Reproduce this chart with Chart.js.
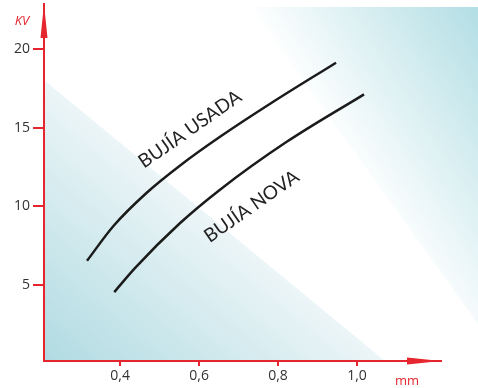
<!DOCTYPE html>
<html>
<head>
  <meta charset="utf-8">
  <title>Bujía KV / mm</title>
  <style>
    body { margin: 0; background: #fff; }
    #wrap { width: 478px; height: 388px; position: relative; }
  </style>
</head>
<body>
  <div id="wrap"><canvas id="chart"></canvas></div>
  <script src="https://cdn.jsdelivr.net/npm/chart.js@4.4.0/dist/chart.umd.min.js"></script>
  <script>
    // electrode gap (mm) and ignition voltage (KV)
    var usadaX = [0.316, 0.383, 0.468, 0.552, 0.653, 0.780, 0.947];
    var usadaKV = [6.54, 8.75, 10.88, 12.60, 14.42, 16.52, 19.13];
    var novaX = [0.385, 0.438, 0.552, 0.653, 0.822, 1.018];
    var novaKV = [4.55, 6.09, 8.94, 11.06, 14.10, 17.12];
    var xTicks = [0.4, 0.6, 0.8, 1.0];
    var yTicks = [5, 10, 15, 20];
    var curveLabels = ['BUJ\u00CDA USADA', 'BUJ\u00CDA NOVA'];
    var labelX = [0.577, 0.733];
    var labelKV = [14.9, 10.0];

    var red = '#e5262e';

    function toPoints(xs, ys) {
      var pts = [];
      for (var i = 0; i < xs.length; i++) pts.push({ x: xs[i], y: ys[i] });
      return pts;
    }

    // shaded corners, arrows, axis names and curve names
    var decor = {
      id: 'decor',
      beforeDraw: function(chart) {
        var ctx = chart.ctx, a = chart.chartArea;
        ctx.save();
        // lower left corner
        var g = ctx.createLinearGradient(a.left, a.bottom, a.left + 138, a.bottom - 167);
        g.addColorStop(0, 'rgb(176,219,226)');
        g.addColorStop(1, 'rgb(236,245,247)');
        ctx.fillStyle = g;
        ctx.beginPath();
        ctx.moveTo(a.left, a.top + 76);
        ctx.lineTo(a.left + 341, a.bottom);
        ctx.lineTo(a.left, a.bottom);
        ctx.closePath();
        ctx.fill();
        // upper right corner
        var w = chart.width;
        var g2 = ctx.createLinearGradient(w, a.top + 3, w - 165, a.top + 108);
        g2.addColorStop(0, 'rgb(178,222,228)');
        g2.addColorStop(1, 'rgb(255,255,255)');
        ctx.fillStyle = g2;
        ctx.beginPath();
        ctx.moveTo(w - 228, a.top + 3);
        ctx.lineTo(w, a.top + 3);
        ctx.lineTo(w, a.top + 320);
        ctx.closePath();
        ctx.fill();
        ctx.restore();
      },
      afterDraw: function(chart) {
        var ctx = chart.ctx, a = chart.chartArea;
        var xs = chart.scales.x, ys = chart.scales.y;
        ctx.save();
        ctx.fillStyle = red;
        // y arrow
        ctx.beginPath();
        ctx.moveTo(a.left, a.top);
        ctx.lineTo(a.left + 3.5, a.top + 34);
        ctx.lineTo(a.left - 3.5, a.top + 34);
        ctx.closePath();
        ctx.fill();
        // x arrow
        ctx.beginPath();
        ctx.moveTo(a.right, a.bottom);
        ctx.lineTo(a.right - 34, a.bottom - 3.5);
        ctx.lineTo(a.right - 34, a.bottom + 3.5);
        ctx.closePath();
        ctx.fill();

        ctx.textAlign = 'center';
        ctx.textBaseline = 'middle';
        ctx.font = 'italic 13px "Open Sans"';
        ctx.fillText('KV', 22, 21);
        ctx.font = '13px "Open Sans"';
        ctx.fillText('mm', 407, 381);

        // curve names
        ctx.fillStyle = '#222';
        ctx.font = '19px Lato';
        for (var i = 0; i < curveLabels.length; i++) {
          ctx.save();
          ctx.translate(xs.getPixelForValue(labelX[i]), ys.getPixelForValue(labelKV[i]));
          ctx.rotate(-35 * Math.PI / 180);
          ctx.fillText(curveLabels[i], 0, 0);
          ctx.restore();
        }
        ctx.restore();
      }
    };

    var ctx = document.getElementById('chart').getContext('2d');
    new Chart(ctx, {
      type: 'line',
      data: {
        datasets: [
          {
            label: curveLabels[0],
            data: toPoints(usadaX, usadaKV),
            borderColor: '#1b1b1b',
            borderWidth: 2.5,
            pointRadius: 0,
            fill: false,
            cubicInterpolationMode: 'monotone'
          },
          {
            label: curveLabels[1],
            data: toPoints(novaX, novaKV),
            borderColor: '#1b1b1b',
            borderWidth: 2.5,
            pointRadius: 0,
            fill: false,
            cubicInterpolationMode: 'monotone'
          }
        ]
      },
      options: {
        responsive: true,
        maintainAspectRatio: false,
        animation: false,
        layout: { padding: { top: 4, right: 37, left: 0, bottom: 0 } },
        plugins: { legend: { display: false }, tooltip: { enabled: false } },
        scales: {
          x: {
            type: 'linear',
            min: 0.207,
            max: 1.213,
            afterBuildTicks: function(s) { s.ticks = xTicks.map(function(v) { return { value: v }; }); },
            afterFit: function(s) { s.height = 27; s.paddingLeft = 0; s.paddingRight = 0; },
            grid: { display: true, drawOnChartArea: false, drawTicks: true, tickLength: 5, color: red, lineWidth: 2 },
            border: { display: true, color: red, width: 2 },
            ticks: {
              color: '#333',
              font: { family: 'Open Sans', size: 14 },
              padding: 2,
              maxRotation: 0,
              callback: function(v) { return v.toFixed(1).replace('.', ','); }
            }
          },
          y: {
            min: 0.17,
            max: 22.86,
            afterBuildTicks: function(s) { s.ticks = yTicks.map(function(v) { return { value: v }; }); },
            afterFit: function(s) { s.width = 44; s.paddingTop = 0; s.paddingBottom = 0; },
            grid: { display: true, drawOnChartArea: false, drawTicks: true, tickLength: 11, color: red, lineWidth: 2 },
            border: { display: true, color: red, width: 2 },
            ticks: {
              color: '#333',
              font: { family: 'Open Sans', size: 14 },
              padding: 3
            }
          }
        }
      },
      plugins: [decor]
    });
  </script>
</body>
</html>
